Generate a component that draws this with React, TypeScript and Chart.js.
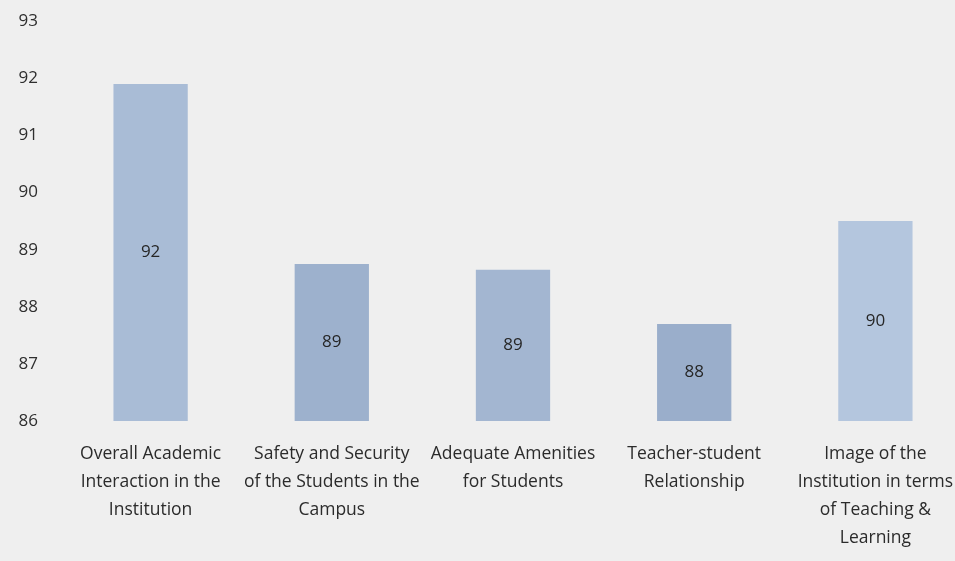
import React, { useEffect, useRef } from "react";
import { Chart, registerables } from "chart.js";

const categories: string[][] = [
  ["Overall Academic", "Interaction in the", "Institution"],
  ["Safety and Security", "of the Students in the", "Campus"],
  ["Adequate Amenities", "for Students"],
  ["Teacher-student", "Relationship"],
  ["Image of the", "Institution in terms", "of Teaching &", "Learning"],
];
const values: number[] = [91.9, 88.75, 88.65, 87.7, 89.5];
const barLabels: string[] = ["92", "89", "89", "88", "90"];
const barColors: string[] = ["#a9bcd6", "#9db1cd", "#a3b6d1", "#9aaecb", "#b4c6de"];

const valueLabelPlugin = {
  id: "barValueText",
  afterDatasetsDraw(chart: any) {
    const ctx = chart.ctx;
    const yScale = chart.scales.y;
    const basePx = yScale.getPixelForValue(86);
    ctx.save();
    ctx.font = "17px 'Open Sans'";
    ctx.fillStyle = "#262626";
    ctx.textAlign = "center";
    ctx.textBaseline = "middle";
    const meta = chart.getDatasetMeta(0);
    for (let i = 0; i < meta.data.length; i++) {
      const bar: any = meta.data[i];
      const topPx = yScale.getPixelForValue(values[i]);
      ctx.fillText(barLabels[i], bar.x, (topPx + basePx) / 2);
    }
    ctx.restore();
  },
};

Chart.register(...registerables, valueLabelPlugin);

export default function App() {
  const ref = useRef<HTMLCanvasElement | null>(null);
  useEffect(() => {
    document.body.style.margin = "0";
    document.body.style.background = "#efefef";
    document.body.style.overflow = "hidden";
    const chart = new Chart(ref.current!, {
      type: "bar",
      data: {
        labels: categories,
        datasets: [
          {
            data: values,
            backgroundColor: barColors,
            barPercentage: 0.41,
            categoryPercentage: 1,
          },
        ],
      },
      options: {
        animation: false,
        responsive: false,
        layout: { padding: { top: 0, left: 14, right: 0, bottom: 8 } },
        plugins: { legend: { display: false }, tooltip: { enabled: false } },
        scales: {
          x: {
            grid: { display: false },
            border: { display: false },
            ticks: {
              color: "#2b2b2b",
              font: { family: "'Open Sans'", size: 17.5, lineHeight: 1.6 },
              maxRotation: 0,
              autoSkip: false,
              padding: 11,
            },
          },
          y: {
            min: 86,
            max: 93,
            grid: { display: false },
            border: { display: false },
            afterFit(scale: any) {
              scale.width = 46;
            },
            ticks: {
              stepSize: 1,
              color: "#2e2e2e",
              font: { family: "'Open Sans'", size: 17 },
              padding: 14,
            },
          },
        },
      },
    });
    return () => chart.destroy();
  }, []);
  return (
    <div style={{ position: "absolute", left: 0, top: 0, width: 955, height: 561, overflow: "hidden", background: "#efefef" }}>
      <canvas ref={ref} width={966} height={574} style={{ position: "absolute", left: 0, top: -3 }} />
    </div>
  );
}
